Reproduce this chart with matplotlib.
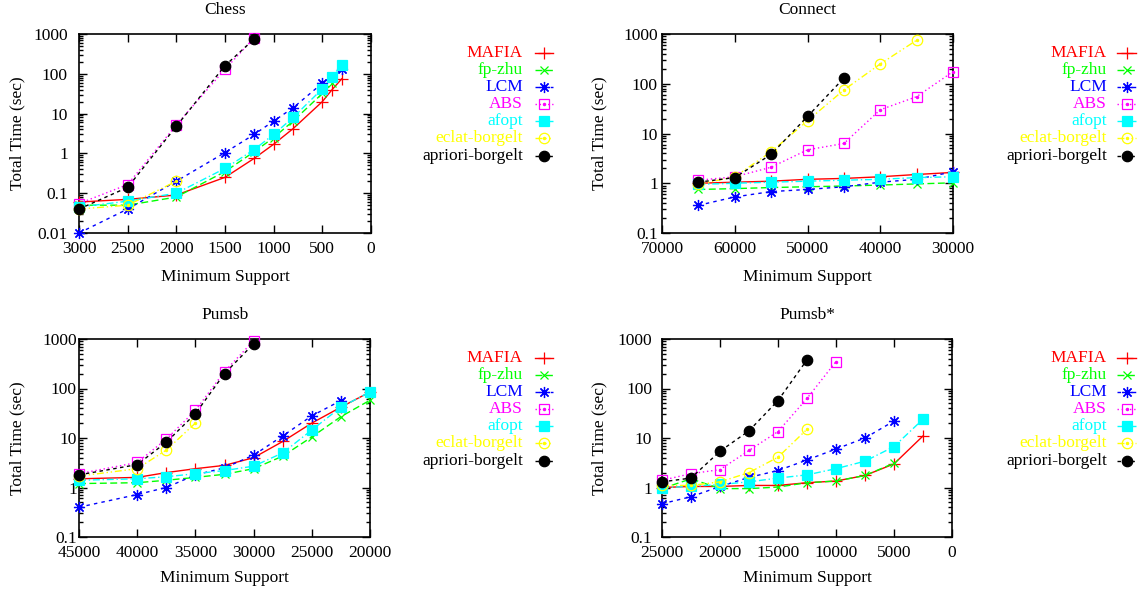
import matplotlib
matplotlib.use("Agg")
import matplotlib.pyplot as plt
from matplotlib.lines import Line2D
from matplotlib.ticker import LogLocator, FixedLocator, NullFormatter

plt.rcParams['font.family'] = ['Liberation Serif', 'DejaVu Serif']

series_names = ["MAFIA", "fp-zhu", "LCM", "ABS", "afopt", "eclat-borgelt", "apriori-borgelt"]

# ---- Chess ----
chess_x = {
    "MAFIA": [3000, 2500, 2000, 1500, 1200, 1000, 800, 500, 400, 300],
    "fp-zhu": [3000, 2500, 2000, 1500, 1200, 1000, 800, 500, 400],
    "LCM": [3000, 2500, 2000, 1500, 1200, 1000, 800, 500, 300],
    "ABS": [3000, 2500, 2000, 1500, 1200],
    "afopt": [3000, 2500, 2000, 1500, 1200, 1000, 800, 500, 400, 300],
    "eclat-borgelt": [3000, 2500, 2000],
    "apriori-borgelt": [3000, 2500, 2000, 1500, 1200],
}
chess_y = {
    "MAFIA": [0.06, 0.07, 0.09, 0.25, 0.75, 1.7, 4.2, 20, 40, 75],
    "fp-zhu": [0.05, 0.05, 0.08, 0.35, 1.1, 2.5, 6.5, 32, 58],
    "LCM": [0.01, 0.04, 0.2, 1.05, 3.0, 6.5, 14, 58, 130],
    "ABS": [0.055, 0.165, 5.2, 130, 800],
    "afopt": [0.045, 0.063, 0.1, 0.42, 1.25, 3.0, 8.0, 42, 85, 170],
    "eclat-borgelt": [0.04, 0.05, 0.2],
    "apriori-borgelt": [0.04, 0.14, 4.8, 160, 750],
}

# ---- Connect ----
conn_all = [65000, 60000, 55000, 50000, 45000, 40000, 35000, 30000]
connect_x = {
    "MAFIA": conn_all,
    "fp-zhu": conn_all,
    "LCM": conn_all,
    "ABS": conn_all,
    "afopt": conn_all,
    "eclat-borgelt": [65000, 60000, 55000, 50000, 45000, 40000, 35000],
    "apriori-borgelt": [65000, 60000, 55000, 50000, 45000],
}
connect_y = {
    "MAFIA": [1.0, 1.05, 1.1, 1.2, 1.25, 1.35, 1.5, 1.65],
    "fp-zhu": [0.75, 0.78, 0.82, 0.85, 0.88, 0.92, 0.97, 1.02],
    "LCM": [0.36, 0.53, 0.68, 0.75, 0.85, 1.05, 1.2, 1.7],
    "ABS": [1.15, 1.35, 2.1, 4.7, 6.3, 30, 55, 175],
    "afopt": [0.95, 1.0, 1.05, 1.1, 1.15, 1.2, 1.3, 1.35],
    "eclat-borgelt": [0.95, 1.35, 4.3, 18, 75, 250, 750],
    "apriori-borgelt": [1.05, 1.3, 3.8, 22, 130],
}

# ---- Pumsb ----
pumsb_all = [45000, 40000, 37500, 35000, 32500, 30000, 27500, 25000, 22500, 20000]
pumsb_x = {
    "MAFIA": pumsb_all,
    "fp-zhu": pumsb_all,
    "LCM": pumsb_all[:-1],
    "ABS": pumsb_all[:6],
    "afopt": pumsb_all,
    "eclat-borgelt": pumsb_all[:4],
    "apriori-borgelt": pumsb_all[:6],
}
pumsb_y = {
    "MAFIA": [1.5, 1.6, 2.0, 2.4, 2.8, 4.0, 8.5, 20, 42, 85],
    "fp-zhu": [1.2, 1.25, 1.4, 1.6, 1.85, 2.4, 4.3, 10.5, 27, 58],
    "LCM": [0.4, 0.72, 1.0, 1.8, 2.5, 4.5, 11, 28, 57],
    "ABS": [1.9, 3.2, 9.5, 36, 220, 920],
    "afopt": [1.4, 1.5, 1.65, 1.9, 2.2, 2.7, 5.0, 14.5, 42, 85],
    "eclat-borgelt": [1.7, 2.4, 5.7, 20],
    "apriori-borgelt": [1.8, 2.9, 8.2, 31, 200, 800],
}

# ---- Pumsb* ----
pstar_all = [25000, 22500, 20000, 17500, 15000, 12500, 10000, 7500, 5000, 2500]
pstar_x = {
    "MAFIA": pstar_all,
    "fp-zhu": pstar_all[:9],
    "LCM": pstar_all[:9],
    "ABS": pstar_all[:7],
    "afopt": pstar_all,
    "eclat-borgelt": pstar_all[:6],
    "apriori-borgelt": pstar_all[:6],
}
pstar_y = {
    "MAFIA": [1.0, 1.05, 1.05, 1.1, 1.1, 1.25, 1.35, 1.75, 3.0, 11],
    "fp-zhu": [0.95, 1.5, 0.95, 0.95, 1.02, 1.25, 1.35, 1.75, 3.1],
    "LCM": [0.47, 0.65, 1.05, 1.6, 2.2, 3.6, 6.0, 10, 22],
    "ABS": [1.4, 1.9, 2.3, 5.6, 13.5, 63, 350],
    "afopt": [1.0, 1.05, 1.15, 1.3, 1.55, 1.8, 2.4, 3.4, 6.7, 24],
    "eclat-borgelt": [1.1, 1.1, 1.3, 2.0, 4.1, 15],
    "apriori-borgelt": [1.3, 1.55, 5.4, 14, 57, 380],
}

styles = {
    "MAFIA": dict(color="#ff0000", ls="-", marker="+", mfc="none", ms=8, mew=0.9),
    "fp-zhu": dict(color="#00ff00", ls=(0, (5, 2.5)), marker="x", mfc="none", ms=6, mew=0.9),
    "LCM": dict(color="#0000ff", ls=(0, (2.5, 3)), marker=(8, 2, 0), mfc="none", ms=8, mew=0.9),
    "ABS": dict(color="#ff00ff", ls=(0, (1, 2)), marker="s", mfc="none", ms=7.5, mew=0.9),
    "afopt": dict(color="#00ffff", ls=(0, (5, 2, 1, 2)), marker="s", mfc="#00ffff", ms=7.5, mew=0.9),
    "eclat-borgelt": dict(color="#ffff00", ls=(0, (5, 2, 1, 2, 1, 2)), marker="o", mfc="none", ms=7.5, mew=0.9),
    "apriori-borgelt": dict(color="#000000", ls=(0, (2.5, 2.5)), marker="o", mfc="#000000", ms=7.5, mew=0.9),
}
center_dot = {"ABS", "eclat-borgelt"}

W, H = 1143, 596
fig = plt.figure(figsize=(W / 100, H / 100), dpi=100)

panels = [
    dict(title="Chess", xs=chess_x, ys=chess_y, xlim=(3000, 0), xticks=list(range(3000, -1, -500)),
         ylim=(0.01, 1000), box=(79, 371, 34, 233), ypad=8, ylab_x=17, tx=225, ty=10, xl_y=277),
    dict(title="Connect", xs=connect_x, ys=connect_y, xlim=(70000, 30000), xticks=list(range(70000, 29999, -10000)),
         ylim=(0.1, 1000), box=(662, 953, 34, 233), ypad=3, ylab_x=599, tx=807, ty=10, xl_y=277),
    dict(title="Pumsb", xs=pumsb_x, ys=pumsb_y, xlim=(45000, 20000), xticks=list(range(45000, 19999, -5000)),
         ylim=(0.1, 1000), box=(79, 370, 339, 537), ypad=1.5, ylab_x=17, tx=225, ty=315, xl_y=578),
    dict(title="Pumsb*", xs=pstar_x, ys=pstar_y, xlim=(25000, 0), xticks=list(range(25000, -1, -5000)),
         ylim=(0.1, 1000), box=(662, 952, 339, 537), ypad=7, ylab_x=599, tx=807, ty=315, xl_y=578),
]

FS = 12.5

def fmt_y(v):
    if v < 1:
        return ("%g" % v)
    return "%d" % v

for p in panels:
    l, r, t, b = p["box"]
    ax = fig.add_axes([l / W, 1 - b / H, (r - l) / W, (b - t) / H])
    for name in series_names:
        st = styles[name]
        ax.plot(p["xs"][name], p["ys"][name], color=st["color"], ls=st["ls"], lw=1.0,
                marker=st["marker"], mfc=st["mfc"], mec=st["color"], ms=st["ms"], mew=st["mew"],
                clip_on=False, zorder=3)
        if name in center_dot:
            ax.plot(p["xs"][name], p["ys"][name], ls="none", marker="o", ms=1.5,
                    mfc=st["color"], mec=st["color"], clip_on=False, zorder=3)
    ax.set_yscale("log")
    ax.set_xlim(*p["xlim"])
    ax.set_ylim(*p["ylim"])
    ax.xaxis.set_major_locator(FixedLocator(p["xticks"]))
    ax.set_xticklabels([str(v) for v in p["xticks"]])
    ymaj = [v for v in [0.01, 0.1, 1, 10, 100, 1000] if p["ylim"][0] <= v <= p["ylim"][1]]
    ax.yaxis.set_major_locator(FixedLocator(ymaj))
    ax.set_yticklabels([fmt_y(v) for v in ymaj])
    ax.yaxis.set_minor_locator(LogLocator(base=10, subs=range(2, 10)))
    ax.yaxis.set_minor_formatter(NullFormatter())
    ax.tick_params(axis="both", which="both", direction="in", top=True, right=True,
                   labelsize=FS, width=1.0, color="black")
    ax.tick_params(axis="both", which="major", length=6)
    ax.tick_params(axis="both", which="minor", length=3)
    ax.tick_params(axis="x", which="major", pad=6)
    ax.tick_params(axis="y", which="major", pad=p["ypad"])
    for s in ax.spines.values():
        s.set_linewidth(1.2)
    fig.text(p["tx"] / W, 1 - p["ty"] / H, p["title"], ha="center", va="center", fontsize=FS)
    fig.text((l + r) / 2 / W, 1 - p["xl_y"] / H, "Minimum Support", ha="center", va="center", fontsize=FS)
    fig.text(p["ylab_x"] / W, 1 - ((t + b) / 2) / H, "Total Time (sec)", ha="center", va="center",
             rotation=90, fontsize=FS)

# legends
leg_rows = [53, 70, 87, 104, 121, 138, 156]
leg_spots = [(523, 535, 553, 0), (1107, 1117, 1136, 0), (523, 535, 553, 305), (1107, 1117, 1136, 305)]
for tx, lx0, lx1, dy in leg_spots:
    for name, yy in zip(series_names, leg_rows):
        st = styles[name]
        y = 1 - (yy + dy) / H
        col = st["color"]
        fig.text(tx / W, y, name, ha="right", va="center", fontsize=FS, color=col)
        xm = (lx0 + lx1) / 2
        ln = Line2D([lx0 / W, xm / W, lx1 / W], [y, y, y], transform=fig.transFigure,
                    color=col, ls=st["ls"], lw=1.0, marker=st["marker"], markevery=[1],
                    mfc=st["mfc"], mec=col, ms=st["ms"], mew=st["mew"])
        fig.add_artist(ln)
        if name in center_dot:
            fig.add_artist(Line2D([xm / W], [y], transform=fig.transFigure, ls="none",
                                  marker="o", ms=1.5, mfc=col, mec=col))

fig.savefig("out.png", dpi=100)
